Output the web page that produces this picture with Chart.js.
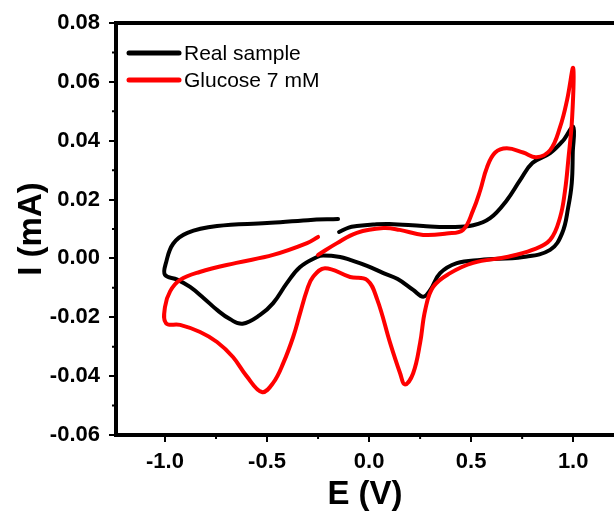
<!DOCTYPE html>
<html>
<head>
<meta charset="utf-8">
<script src="https://cdn.jsdelivr.net/npm/chart.js@4.4.1/dist/chart.umd.min.js"></script>
<style>
    html, body { margin: 0; padding: 0; background: #fff; overflow: hidden; }
    #contenedor { width: 614px; height: 517px; }
</style>
</head>
<body>
<div id="contenedor"><canvas id="cv__grafico"></canvas></div>
<script>
// Voltamperograma ciclico: potencial E (V) contra corriente I (mA)
const realE = [-0.147, -0.10, -0.06, 0.02, 0.10, 0.265, 0.40, 0.51, 0.593, 0.675, 0.74, 0.80, 0.887, 0.95, 1.0,
    0.998, 0.993, 0.976, 0.946, 0.887, 0.755, 0.544, 0.43, 0.348, 0.30, 0.265, 0.216, 0.14, 0.07, -0.01, -0.093,
    -0.142, -0.225, -0.255, -0.338, -0.402, -0.47, -0.534, -0.62, -0.68, -0.745, -0.81, -0.877, -0.94, -1.0,
    -0.995, -0.96, -0.89, -0.745, -0.50, -0.30, -0.152]
const realI = [0.009, 0.0105, 0.011, 0.0115, 0.0117, 0.011, 0.0107, 0.0113, 0.0137, 0.0198, 0.0266, 0.0324, 0.0358, 0.040, 0.0447,
    0.036, 0.0256, 0.0175, 0.0086, 0.0029, 0.0005, -0.0005, -0.0016, -0.005, -0.0107, -0.013, -0.0107, -0.007, -0.005, -0.0025, -0.0005,
    0.0005, 0.001, 0.0005, -0.0029, -0.0083, -0.0152, -0.0192, -0.0222, -0.0207, -0.0175, -0.0135, -0.0097, -0.0072, -0.0056,
    -0.0015, 0.005, 0.0087, 0.011, 0.012, 0.013, 0.0134]

const glucoseE = [-0.25, -0.157, -0.06, 0.07, 0.15, 0.265, 0.38, 0.46, 0.51, 0.544, 0.578, 0.618, 0.675, 0.755, 0.82, 0.887, 0.936, 0.97, 1.0,
    0.995, 0.976, 0.96, 0.936, 0.887, 0.80, 0.675, 0.51, 0.397, 0.314, 0.275, 0.25, 0.216, 0.176, 0.152, 0.103, 0.04, -0.01, -0.093,
    -0.216, -0.275, -0.304, -0.338, -0.372, -0.42, -0.47, -0.525, -0.6, -0.667, -0.745, -0.828, -0.926, -0.995,
    -1.0, -0.975, -0.926, -0.83, -0.65, -0.47, -0.304, -0.25]
const glucoseI = [0.0012, 0.0052, 0.0087, 0.0103, 0.0097, 0.008, 0.0085, 0.0097, 0.0164, 0.023, 0.031, 0.036, 0.0374, 0.036, 0.0344, 0.0368, 0.0447, 0.0538, 0.0647,
    0.048, 0.0334, 0.023, 0.014, 0.0063, 0.0029, 0.0005, -0.0015, -0.005, -0.0097, -0.0175, -0.0287, -0.039, -0.0428, -0.039, -0.0287, -0.014, -0.0073, -0.0063,
    -0.0033, -0.0063, -0.0107, -0.0186, -0.0267, -0.0355, -0.0423, -0.0454, -0.040, -0.0335, -0.0284, -0.025, -0.0226, -0.022,
    -0.0165, -0.0112, -0.0073, -0.0046, -0.0015, 0.0012, 0.0052, 0.0073]

const xTicks = [-1.0, -0.5, 0.0, 0.5, 1.0]
const yTicks = [-0.06, -0.04, -0.02, 0.00, 0.02, 0.04, 0.06, 0.08]

const puntos = (e, i) => e.map((v, k) => ({ x: v, y: i[k] }))
const medios = (t) => t.slice(1).map((v, k) => (v + t[k]) / 2)

const fuente = "Arial, 'Liberation Sans', sans-serif"

// marco superior, ticks menores y leyenda dentro del area
const extras = {
    id: 'extras',
    afterDraw(chart) {
        const ctx = chart.ctx
        const area = chart.chartArea
        const sx = chart.scales.x
        const sy = chart.scales.y
        ctx.save()
        ctx.strokeStyle = '#000'
        ctx.lineWidth = 4
        ctx.beginPath()
        ctx.moveTo(area.left - 2, area.top)
        ctx.lineTo(area.right, area.top)
        ctx.stroke()

        ctx.lineWidth = 2
        ctx.beginPath()
        medios(xTicks).forEach(v => {
            const px = sx.getPixelForValue(v)
            ctx.moveTo(px, area.bottom)
            ctx.lineTo(px, area.bottom + 4)
        })
        medios(yTicks).forEach(v => {
            const py = sy.getPixelForValue(v)
            ctx.moveTo(area.left, py)
            ctx.lineTo(area.left - 4, py)
        })
        ctx.stroke()

        ctx.font = '21px ' + fuente
        ctx.textBaseline = 'middle'
        ctx.fillStyle = '#000'
        ctx.lineCap = 'round'
        chart.data.datasets.forEach((ds, k) => {
            const y = area.top + 30 + k * 27
            ctx.strokeStyle = ds.borderColor
            ctx.lineWidth = 5
            ctx.beginPath()
            ctx.moveTo(area.left + 13, y)
            ctx.lineTo(area.left + 63, y)
            ctx.stroke()
            ctx.fillText(ds.label, area.left + 68, y + 1)
        })
        ctx.restore()
    }
}

const cv__grafico = document.getElementById('cv__grafico').getContext('2d')
const cvChart = new Chart(cv__grafico, {
    type: 'scatter',
    data: {
        datasets: [{
            label: 'Real sample',
            data: puntos(realE, realI),
            borderColor: '#000000',
            order: 1
        }, {
            label: 'Glucose 7 mM',
            data: puntos(glucoseE, glucoseI),
            borderColor: '#ff0000',
            order: 0
        }]
    },
    options: {
        responsive: true,
        maintainAspectRatio: false,
        animation: false,
        layout: { padding: { top: 23, right: 0, left: 0, bottom: 0 } },
        datasets: {
            scatter: {
                showLine: true,
                pointRadius: 0,
                borderWidth: 4,
                tension: 0.4,
                borderCapStyle: 'round',
                borderJoinStyle: 'round'
            }
        },
        plugins: {
            legend: { display: false },
            tooltip: { enabled: false }
        },
        scales: {
            x: {
                type: 'linear',
                min: -1.24,
                max: 1.2,
                afterBuildTicks: (s) => { s.ticks = xTicks.map(v => ({ value: v })) },
                afterFit: (s) => { s.height = 82 },
                ticks: {
                    callback: (v) => v.toFixed(1),
                    color: '#000',
                    font: { family: fuente, size: 22, weight: 'bold' },
                    padding: 7,
                    maxRotation: 0
                },
                grid: { drawOnChartArea: false, tickLength: 7, tickWidth: 2, tickColor: '#000', lineWidth: 2 },
                border: { width: 4, color: '#000' },
                title: {
                    display: true,
                    text: 'E (V)',
                    color: '#000',
                    font: { family: fuente, size: 33, weight: 'bold' },
                    padding: { top: 0, bottom: 2 }
                }
            },
            y: {
                type: 'linear',
                min: -0.06,
                max: 0.08,
                afterBuildTicks: (s) => { s.ticks = yTicks.map(v => ({ value: v })) },
                afterFit: (s) => { s.width = 116 },
                ticks: {
                    callback: (v) => v.toFixed(2),
                    color: '#000',
                    font: { family: fuente, size: 22, weight: 'bold' },
                    padding: 9
                },
                grid: { drawOnChartArea: false, tickLength: 7, tickWidth: 2, tickColor: '#000', lineWidth: 2 },
                border: { width: 4, color: '#000' },
                title: {
                    display: true,
                    text: 'I (mA)',
                    color: '#000',
                    font: { family: fuente, size: 33, weight: 'bold' },
                    padding: { top: 12, bottom: 0 }
                }
            }
        }
    },
    plugins: [extras]
})
</script>
</body>
</html>
